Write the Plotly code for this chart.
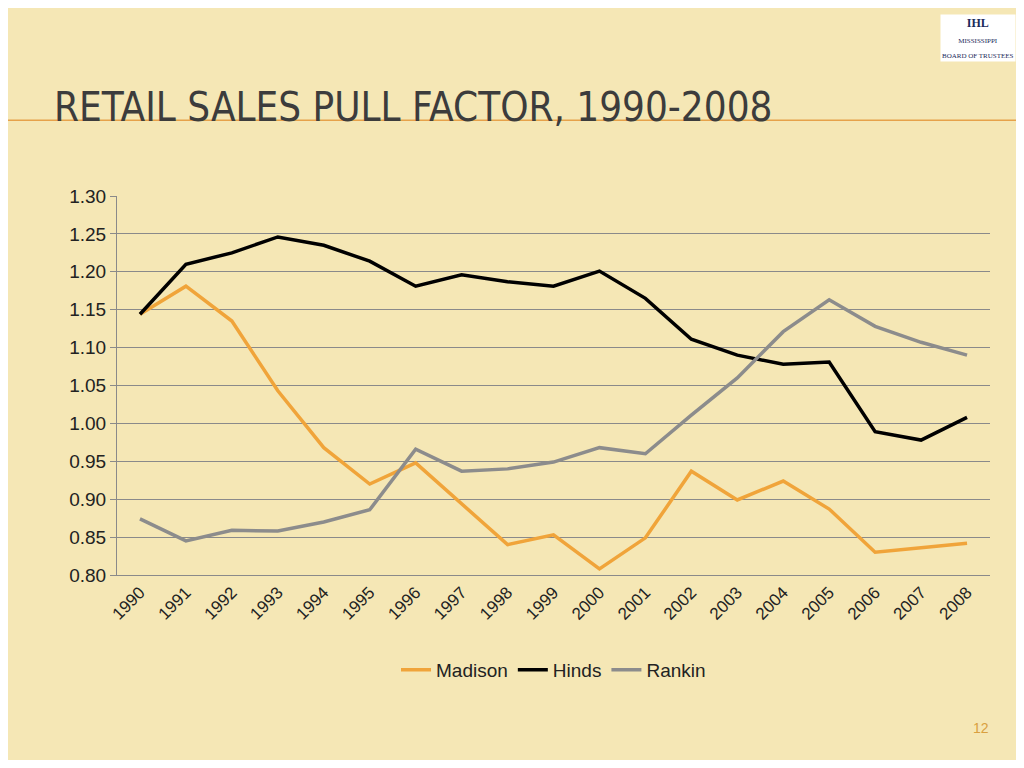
import plotly.graph_objects as go

years = [str(y) for y in range(1990, 2009)]
madison = [1.144, 1.181, 1.135, 1.043, 0.968, 0.920, 0.948, 0.894, 0.840, 0.853,
           0.808, 0.849, 0.937, 0.899, 0.924, 0.887, 0.830, 0.836, 0.842]
hinds = [1.144, 1.210, 1.225, 1.246, 1.235, 1.214, 1.181, 1.196, 1.187, 1.181,
         1.201, 1.165, 1.111, 1.090, 1.078, 1.081, 0.989, 0.978, 1.008]
rankin = [0.874, 0.845, 0.859, 0.858, 0.870, 0.886, 0.966, 0.937, 0.940, 0.949,
          0.968, 0.960, 1.011, 1.060, 1.121, 1.163, 1.128, 1.107, 1.090]
xpos = list(range(len(years)))

fig = go.Figure()
fig.add_trace(go.Scatter(x=xpos, y=madison, name="Madison", mode="lines",
                         line=dict(color="#f0a43a", width=3.5)))
fig.add_trace(go.Scatter(x=xpos, y=hinds, name="Hinds", mode="lines",
                         line=dict(color="#000000", width=3.5)))
fig.add_trace(go.Scatter(x=xpos, y=rankin, name="Rankin", mode="lines",
                         line=dict(color="#8c8c8c", width=3.5)))

fig.update_layout(
    width=1008, height=752,
    paper_bgcolor="#f5e7b5", plot_bgcolor="rgba(0,0,0,0)",
    margin=dict(l=109, r=26, t=188, b=185),
    font=dict(family="Liberation Sans, Arial", size=19, color="#222222"),
    showlegend=True,
    legend=dict(orientation="h", x=0.5, xanchor="center", y=-0.2, yanchor="top",
                font=dict(size=19)),
    xaxis=dict(range=[-0.5, 18.5], tickvals=xpos, ticktext=years, tickangle=-45,
               showgrid=False, showline=True, zeroline=False,
               linecolor="#8a8a8a", tickfont=dict(size=17)),
    yaxis=dict(range=[0.80, 1.30], dtick=0.05, tickformat=".2f", gridcolor="#8a8a8a",
               showline=True, linecolor="#8a8a8a", ticks="outside", ticklen=6,
               tickcolor="#8a8a8a", zeroline=False),
    annotations=[
        dict(text="RETAIL SALES PULL FACTOR, 1990-2008", xref="paper", yref="paper",
             x=-0.075, y=1.235, xanchor="left", yanchor="middle", showarrow=False,
             font=dict(family="DejaVu Sans Condensed, Liberation Sans Narrow", size=40,
                       color="#3c3c3c")),
        dict(text="12", xref="paper", yref="paper", x=0.99, y=-0.43, xanchor="center",
             showarrow=False, font=dict(size=14, color="#d9a040")),
        dict(text="<b>IHL</b><br><span style='font-size:7px'>MISSISSIPPI<br>BOARD OF TRUSTEES</span>",
             xref="paper", yref="paper", x=1.03, y=1.48, xanchor="right", showarrow=False,
             font=dict(family="Liberation Serif", size=12, color="#1a2a5a"),
             bgcolor="white"),
    ],
    shapes=[dict(type="line", xref="paper", yref="paper", x0=-0.135, x1=1.04,
                 y0=1.2, y1=1.2, line=dict(color="#e6a24a", width=1.5))],
)

fig.write_html("out.html")
